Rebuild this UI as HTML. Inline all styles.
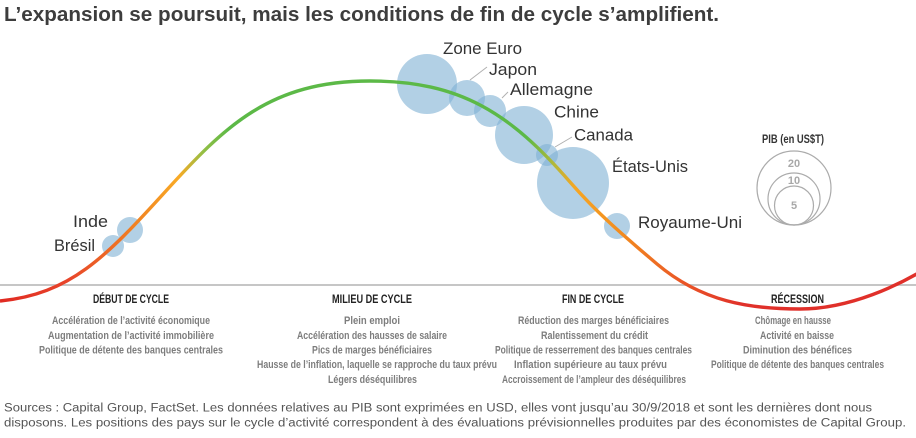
<!DOCTYPE html>
<html>
<head>
<meta charset="utf-8">
<style>
html,body{margin:0;padding:0;background:#fff;}
svg{display:block;}
text{font-family:"Liberation Sans",Arial,sans-serif;}
.lab{font-size:16.5px;fill:#333;}
.hd{font-size:12px;font-weight:bold;fill:#222;}
.bd{font-size:10.8px;font-weight:bold;fill:#7d7d7d;}
.ft{font-size:11.5px;fill:#555;}
</style>
</head>
<body>
<svg width="916" height="438" viewBox="0 0 916 438" xmlns="http://www.w3.org/2000/svg">
<defs>
<linearGradient id="cg" gradientUnits="userSpaceOnUse" x1="0" y1="0" x2="916" y2="0">
<stop offset="0" stop-color="#e02a22"/>
<stop offset="0.075" stop-color="#e8452a"/>
<stop offset="0.145" stop-color="#f07f22"/>
<stop offset="0.195" stop-color="#f9aa25"/>
<stop offset="0.222" stop-color="#93bf45"/>
<stop offset="0.25" stop-color="#5cb947"/>
<stop offset="0.575" stop-color="#5cb947"/>
<stop offset="0.605" stop-color="#b3b83a"/>
<stop offset="0.628" stop-color="#f6a623"/>
<stop offset="0.68" stop-color="#f28a1f"/>
<stop offset="0.745" stop-color="#ea5626"/>
<stop offset="0.81" stop-color="#e0302a"/>
<stop offset="1" stop-color="#e0302a"/>
</linearGradient>
</defs>
<rect width="916" height="438" fill="#fff"/>

<text x="4" y="21" style="font-size:20px;font-weight:bold;fill:#3d3d3d" textLength="715" lengthAdjust="spacingAndGlyphs">L’expansion se poursuit, mais les conditions de fin de cycle s’amplifient.</text>

<!-- baseline -->
<line x1="0" y1="285" x2="916" y2="285" stroke="#c6c6c6" stroke-width="2"/>

<!-- bubbles -->
<g fill="#7fb1d3" fill-opacity="0.6">
<circle cx="113" cy="246" r="11"/>
<circle cx="130" cy="230" r="13"/>
<circle cx="427" cy="84" r="30"/>
<circle cx="467" cy="98" r="18"/>
<circle cx="490" cy="111" r="16"/>
<circle cx="524" cy="135" r="29"/>
<circle cx="547" cy="155" r="11"/>
<circle cx="573" cy="183" r="36"/>
<circle cx="617" cy="226" r="13"/>
</g>

<!-- curve -->
<path d="M0,301 C70,294 105,258 165,192 C225,126 270,81 370,81 C460,81 510,113 570,182 C599,215.4 628,239.3 657,264 C702,302 750,309 800,309 C850,309 900,285 930,266" fill="none" stroke="url(#cg)" stroke-width="3.4"/>

<!-- leader lines -->
<g stroke="#b0b0b0" stroke-width="1">
<line x1="470" y1="80" x2="487" y2="67"/>
<line x1="502" y1="98" x2="508" y2="92"/>
<line x1="555" y1="147" x2="572" y2="137"/>
</g>

<!-- country labels -->
<text class="lab" x="443" y="54" textLength="79" lengthAdjust="spacingAndGlyphs">Zone Euro</text>
<text class="lab" x="489" y="75" textLength="48" lengthAdjust="spacingAndGlyphs">Japon</text>
<text class="lab" x="510" y="95" textLength="83" lengthAdjust="spacingAndGlyphs">Allemagne</text>
<text class="lab" x="554" y="117.5" textLength="45" lengthAdjust="spacingAndGlyphs">Chine</text>
<text class="lab" x="574" y="140.5" textLength="59" lengthAdjust="spacingAndGlyphs">Canada</text>
<text class="lab" x="612" y="172" textLength="76" lengthAdjust="spacingAndGlyphs">États-Unis</text>
<text class="lab" x="638" y="228" textLength="104" lengthAdjust="spacingAndGlyphs">Royaume-Uni</text>
<text class="lab" x="73" y="227" textLength="35" lengthAdjust="spacingAndGlyphs">Inde</text>
<text class="lab" x="54" y="251" textLength="41" lengthAdjust="spacingAndGlyphs">Brésil</text>

<!-- legend -->
<text x="762" y="143" style="font-size:11.5px;font-weight:bold;fill:#333" textLength="62" lengthAdjust="spacingAndGlyphs">PIB (en US$T)</text>
<g fill="none" stroke="#ababab" stroke-width="1.2">
<circle cx="794" cy="188" r="37"/>
<circle cx="794" cy="199" r="26"/>
<circle cx="794" cy="205.5" r="19.5"/>
</g>
<g style="font-size:11px;font-weight:bold;fill:#a8a8a8" text-anchor="middle">
<text x="794" y="167">20</text>
<text x="794" y="184">10</text>
<text x="794" y="209">5</text>
</g>

<!-- headings -->
<text class="hd" x="93" y="303" textLength="76" lengthAdjust="spacingAndGlyphs">DÉBUT DE CYCLE</text>
<text class="hd" x="332" y="303" textLength="80" lengthAdjust="spacingAndGlyphs">MILIEU DE CYCLE</text>
<text class="hd" x="562" y="303" textLength="62" lengthAdjust="spacingAndGlyphs">FIN DE CYCLE</text>
<text class="hd" x="771" y="303" textLength="53" lengthAdjust="spacingAndGlyphs">RÉCESSION</text>

<!-- Début -->
<text class="bd" x="52" y="324" textLength="158" lengthAdjust="spacingAndGlyphs">Accélération de l’activité économique</text>
<text class="bd" x="48" y="339" textLength="166" lengthAdjust="spacingAndGlyphs">Augmentation de l’activité immobilière</text>
<text class="bd" x="39" y="353.5" textLength="184" lengthAdjust="spacingAndGlyphs">Politique de détente des banques centrales</text>

<!-- Milieu -->
<text class="bd" x="344" y="324" textLength="56" lengthAdjust="spacingAndGlyphs">Plein emploi</text>
<text class="bd" x="297" y="339" textLength="150" lengthAdjust="spacingAndGlyphs">Accélération des hausses de salaire</text>
<text class="bd" x="312" y="353.5" textLength="120" lengthAdjust="spacingAndGlyphs">Pics de marges bénéficiaires</text>
<text class="bd" x="257" y="368" textLength="240" lengthAdjust="spacingAndGlyphs">Hausse de l’inflation, laquelle se rapproche du taux prévu</text>
<text class="bd" x="328" y="383" textLength="89" lengthAdjust="spacingAndGlyphs">Légers déséquilibres</text>

<!-- Fin -->
<text class="bd" x="518" y="324" textLength="151" lengthAdjust="spacingAndGlyphs">Réduction des marges bénéficiaires</text>
<text class="bd" x="541" y="339" textLength="107" lengthAdjust="spacingAndGlyphs">Ralentissement du crédit</text>
<text class="bd" x="495" y="353.5" textLength="197" lengthAdjust="spacingAndGlyphs">Politique de resserrement des banques centrales</text>
<text class="bd" x="514" y="368" textLength="153" lengthAdjust="spacingAndGlyphs">Inflation supérieure au taux prévu</text>
<text class="bd" x="502" y="383" textLength="184" lengthAdjust="spacingAndGlyphs">Accroissement de l’ampleur des déséquilibres</text>

<!-- Récession -->
<text class="bd" x="755" y="324" textLength="76" lengthAdjust="spacingAndGlyphs">Chômage en hausse</text>
<text class="bd" x="760" y="339" textLength="74" lengthAdjust="spacingAndGlyphs">Activité en baisse</text>
<text class="bd" x="743" y="353.5" textLength="109" lengthAdjust="spacingAndGlyphs">Diminution des bénéfices</text>
<text class="bd" x="711" y="368" textLength="173" lengthAdjust="spacingAndGlyphs">Politique de détente des banques centrales</text>

<!-- footer -->
<text class="ft" x="4" y="411.5" textLength="868" lengthAdjust="spacingAndGlyphs">Sources : Capital Group, FactSet. Les données relatives au PIB sont exprimées en USD, elles vont jusqu’au 30/9/2018 et sont les dernières dont nous</text>
<text class="ft" x="4" y="426.5" textLength="902" lengthAdjust="spacingAndGlyphs">disposons. Les positions des pays sur le cycle d’activité correspondent à des évaluations prévisionnelles produites par des économistes de Capital Group.</text>
</svg>
</body>
</html>
